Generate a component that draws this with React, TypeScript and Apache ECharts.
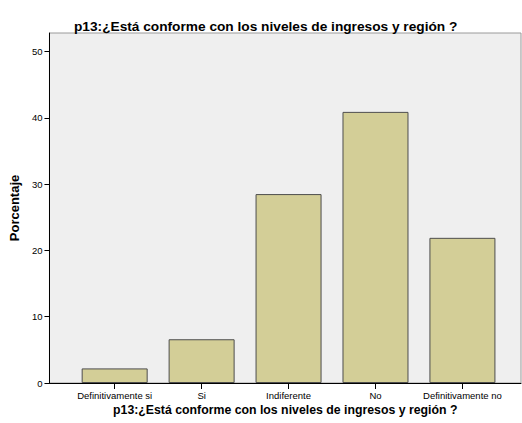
import React, { useEffect, useRef } from "react";
import * as echarts from "echarts";

const categories = ["Definitivamente si", "Si", "Indiferente", "No", "Definitivamente no"];
const percentages = [2.2, 6.6, 28.5, 40.9, 21.9];
const yTickValues = [0, 10, 20, 30, 40, 50];
const titleText = "p13:¿Está conforme con los niveles de ingresos y región ?";
const yAxisTitle = "Porcentaje";
const Y_MAX = 52.8;

export default function App() {
  const ref = useRef<HTMLDivElement>(null);
  useEffect(() => {
    document.body.style.margin = "0";
    if (!ref.current) return;
    const chart = echarts.init(ref.current, null, { renderer: "svg" });
    const font = "Arial, 'Liberation Sans', sans-serif";
    chart.setOption({
      animation: false,
      backgroundColor: "#ffffff",
      textStyle: { fontFamily: font },
      title: {
        text: titleText,
        left: 69,
        top: 14,
        textStyle: { fontSize: 13.7, fontWeight: "bold", color: "#000", fontFamily: font },
      },
      grid: [
        {
          left: 47,
          top: 33,
          width: 474,
          height: 350,
          show: true,
          backgroundColor: "#EFEFEF",
          borderColor: "#9a9a9a",
          borderWidth: 1,
        },
        {
          left: 71.2,
          top: 33,
          width: 434.7,
          height: 350,
        },
      ],
      xAxis: [
        {
          type: "value",
          gridIndex: 0,
          min: 0,
          max: 1,
          axisLine: { show: true, lineStyle: { color: "#000", width: 1 } },
          axisTick: { show: false },
          axisLabel: { show: false },
          splitLine: { show: false },
          name: titleText,
          nameLocation: "middle",
          nameGap: 21,
          nameTextStyle: { fontSize: 12.3, fontWeight: "bold", color: "#000", fontFamily: font },
        },
        {
          type: "category",
          gridIndex: 1,
          data: categories,
          axisLine: { show: false },
          axisTick: { show: true, alignWithLabel: true, length: 6, lineStyle: { color: "#000" } },
          axisLabel: { fontSize: 9.5, color: "#000", margin: 7, interval: 0, fontFamily: font },
          splitLine: { show: false },
        },
      ],
      yAxis: [
        {
          type: "value",
          gridIndex: 0,
          min: 0,
          max: Y_MAX,
          interval: 10,
          axisLine: { show: true, lineStyle: { color: "#000", width: 1 } },
          axisTick: { show: true, length: 5, lineStyle: { color: "#000" }, customValues: yTickValues },
          axisLabel: { fontSize: 9.5, color: "#000", margin: 7, customValues: yTickValues, fontFamily: font },
          splitLine: { show: false },
          name: yAxisTitle,
          nameLocation: "middle",
          nameGap: 24,
          nameTextStyle: { fontSize: 13, fontWeight: "bold", color: "#000", fontFamily: font },
        },
        {
          type: "value",
          gridIndex: 1,
          min: 0,
          max: Y_MAX,
          show: false,
          splitLine: { show: false },
        },
      ],
      series: [
        {
          type: "bar",
          xAxisIndex: 1,
          yAxisIndex: 1,
          data: percentages,
          barWidth: 66,
          itemStyle: { color: "#D3CE97", borderColor: "#4d4d4d", borderWidth: 1 },
        },
      ],
    });
    return () => chart.dispose();
  }, []);
  return <div ref={ref} style={{ width: 522, height: 423 }} />;
}
